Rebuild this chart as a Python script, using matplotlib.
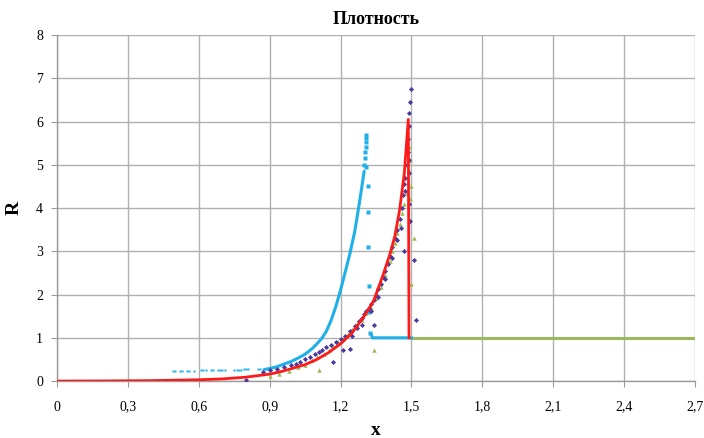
import matplotlib
matplotlib.use("Agg")
import matplotlib.pyplot as plt
from matplotlib.ticker import FixedLocator

# ---- data ----
red_x = [0.0, 0.2, 0.4, 0.6, 0.7, 0.8, 0.9, 0.95, 1.0, 1.05, 1.1, 1.15, 1.2, 1.25,
         1.3, 1.34, 1.38, 1.41, 1.43, 1.45, 1.47, 1.487, 1.49]
red_r = [0.0, 0.003, 0.01, 0.03, 0.05, 0.09, 0.16, 0.22, 0.30, 0.38, 0.50, 0.66, 0.86, 1.12,
         1.50, 1.85, 2.45, 2.95, 3.35, 3.95, 4.80, 6.05, 1.0]

blue_sparse_x = [0.49, 0.50, 0.52, 0.53, 0.55, 0.56, 0.58, 0.61, 0.62, 0.63, 0.65, 0.66,
                 0.68, 0.69, 0.70, 0.71, 0.75, 0.76, 0.77, 0.78, 0.79, 0.80, 0.81, 0.85,
                 0.86, 0.87]
blue_sparse_r = [0.24, 0.24, 0.24, 0.24, 0.24, 0.24, 0.24, 0.25, 0.25, 0.25, 0.25, 0.25,
                 0.25, 0.25, 0.25, 0.26, 0.26, 0.26, 0.26, 0.26, 0.27, 0.27, 0.27, 0.27,
                 0.28, 0.28]
blue_x = [0.88, 0.90, 0.93, 0.96, 0.99, 1.02, 1.05, 1.08, 1.10, 1.12, 1.14, 1.16, 1.18,
          1.20, 1.22, 1.24, 1.26, 1.27, 1.28, 1.29, 1.30]
blue_r = [0.27, 0.29, 0.33, 0.39, 0.45, 0.53, 0.62, 0.75, 0.86, 0.98, 1.15, 1.40, 1.72,
          2.10, 2.52, 2.95, 3.45, 3.78, 4.12, 4.48, 4.85]
blue_peak_x = [1.30, 1.303, 1.305, 1.307, 1.31, 1.31, 1.308, 1.306, 1.315, 1.316, 1.318,
               1.32, 1.322, 1.325]
blue_peak_r = [5.00, 5.15, 5.30, 5.42, 5.52, 5.62, 5.68, 4.95, 4.50, 3.90, 3.10, 2.20,
               1.60, 1.10]
blue_flat_x = [1.33, 1.335, 1.50]
blue_flat_r = [1.08, 1.00, 1.00]

purple_x = [0.80, 0.87, 0.90, 0.93, 0.96, 0.99, 1.01, 1.03, 1.05, 1.07, 1.09, 1.11, 1.12,
            1.14, 1.16, 1.17, 1.18, 1.20, 1.21, 1.22, 1.24, 1.24, 1.26, 1.27, 1.28, 1.29,
            1.30, 1.31, 1.32, 1.33, 1.34, 1.35, 1.36, 1.37, 1.38, 1.39, 1.40, 1.41, 1.42,
            1.43, 1.44, 1.45, 1.46, 1.465, 1.47, 1.475, 1.48, 1.485, 1.487, 1.49, 1.492,
            1.495, 1.497, 1.492, 1.494, 1.49, 1.513, 1.52, 1.47, 1.34,
            1.25, 1.29, 1.33, 1.36, 1.39, 1.42, 1.44, 1.455, 1.475, 1.488]
purple_r = [0.02, 0.22, 0.26, 0.27, 0.32, 0.36, 0.40, 0.45, 0.50, 0.56, 0.62, 0.68, 0.72,
            0.78, 0.84, 0.45, 0.90, 0.97, 0.72, 1.05, 0.74, 1.15, 1.28, 1.22, 1.40, 1.45,
            1.55, 1.62, 1.70, 1.78, 1.88, 2.00, 2.12, 2.25, 2.40, 2.55, 2.70, 2.90, 3.10,
            3.30, 3.50, 3.75, 4.00, 4.30, 4.55, 4.70, 5.00, 5.30, 5.60, 5.90, 6.20,
            6.45, 6.75, 4.10, 3.70, 4.80, 2.80, 1.42, 3.00, 1.30,
            1.05, 1.30, 1.62, 1.95, 2.35, 2.85, 3.25, 3.55, 4.40, 5.10]

olive_x = [0.90, 0.94, 0.98, 1.02, 1.05, 1.08, 1.11, 1.10, 1.13, 1.15, 1.17, 1.19, 1.21,
           1.23, 1.25, 1.27, 1.29, 1.31, 1.33, 1.34, 1.35, 1.37, 1.39, 1.41, 1.42, 1.43,
           1.44, 1.45, 1.46, 1.47, 1.48, 1.485, 1.49, 1.495, 1.50, 1.49, 1.51, 1.50, 1.495]
olive_r = [0.12, 0.17, 0.24, 0.32, 0.38, 0.48, 0.26, 0.55, 0.62, 0.72, 0.80, 0.90, 0.98,
           1.08, 1.20, 1.32, 1.42, 1.58, 1.70, 0.72, 1.92, 2.18, 2.45, 2.78, 3.00, 3.20,
           3.42, 3.62, 3.88, 4.10, 4.35, 4.60, 4.85, 5.10, 4.50, 5.40, 3.30, 2.25, 4.20]

olive_line_x = [1.50, 2.70]
olive_line_r = [1.0, 1.0]

xticks = [0, 0.3, 0.6, 0.9, 1.2, 1.5, 1.8, 2.1, 2.4, 2.7]
xtick_labels = ["0", "0,3", "0,6", "0,9", "1,2", "1,5", "1,8", "2,1", "2,4", "2,7"]
yticks = [0, 1, 2, 3, 4, 5, 6, 7, 8]

# ---- drawing ----
plt.rcParams['font.family'] = ['Liberation Serif', 'DejaVu Serif']

fig = plt.figure(figsize=(7.04, 4.38), dpi=100)
ax = fig.add_axes([0.081, 0.130, 0.906, 0.790])

CYAN = '#1fb0e8'
PURPLE = '#4b3a9c'
OLIVE = '#9bbb59'
RED = '#ff1a1a'

ax.plot(olive_line_x, olive_line_r, color=OLIVE, lw=2.2, zorder=3)
ax.plot(blue_sparse_x, blue_sparse_r, ls='none', marker='s', ms=2.0, color=CYAN,
        mec='none', zorder=3)
ax.plot(blue_x, blue_r, color=CYAN, lw=2.2, zorder=3, solid_capstyle='round')
ax.plot(blue_peak_x, blue_peak_r, ls='none', marker='s', ms=2.2, color=CYAN,
        mec='none', zorder=3)
ax.plot(blue_flat_x, blue_flat_r, color=CYAN, lw=2.2, zorder=3)
ax.plot(olive_x, olive_r, ls='none', marker='^', ms=3.2, color=OLIVE, mec='none', zorder=4)
ax.plot(purple_x, purple_r, ls='none', marker='D', ms=2.6, color=PURPLE, mec='none', zorder=4)
ax.plot(red_x, red_r, color=RED, lw=2.0, zorder=5)

ax.set_xlim(0, 2.7)
ax.set_ylim(0, 8)
ax.xaxis.set_major_locator(FixedLocator(xticks))
ax.set_xticklabels(xtick_labels)
ax.set_yticks(yticks)
ax.grid(True, color='#b0b0b0', lw=1.0)
ax.set_axisbelow(True)
for s in ['top', 'right']:
    ax.spines[s].set_visible(False)
for s in ['left', 'bottom']:
    ax.spines[s].set_color('#9a9a9a')
    ax.spines[s].set_linewidth(1.0)
ax.tick_params(axis='both', direction='out', length=4, color='#9a9a9a',
               labelsize=10, pad=6)
ax.tick_params(axis='x', pad=10)

ax.set_title('Плотность', fontsize=13, fontweight='bold', pad=8)
ax.set_xlabel('x', fontsize=14, fontweight='bold', labelpad=6)
ax.set_ylabel('R', fontsize=14, fontweight='bold', labelpad=10)

fig.savefig('out.png', dpi=100, facecolor='white')
